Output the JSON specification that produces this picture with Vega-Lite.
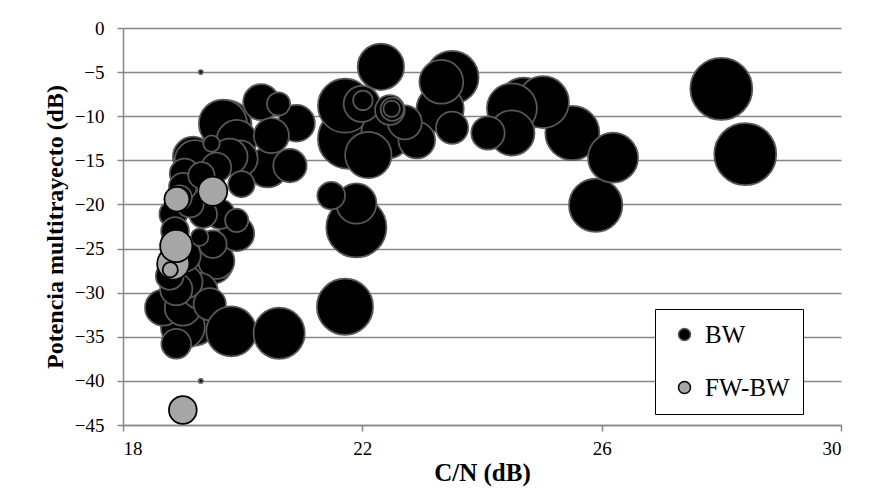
{
  "$schema": "https://vega.github.io/schema/vega-lite/v6.json",
  "width": 718,
  "height": 397,
  "autosize": {"type": "none"},
  "padding": {"left": 123, "top": 28, "right": 28, "bottom": 79},
  "background": "white",
  "config": {
    "view": {"stroke": null},
    "font": "Liberation Serif",
    "axis": {"labelFont": "Liberation Serif", "titleFont": "Liberation Serif"},
    "legend": {"labelFont": "Liberation Serif"}
  },
  "data": {
    "values": [
      {"serie": "BW", "cn": 28.00, "potencia": -6.9, "peso": 100},
      {"serie": "BW", "cn": 28.40, "potencia": -14.3, "peso": 100},
      {"serie": "BW", "cn": 21.76, "potencia": -12.55, "peso": 94},
      {"serie": "BW", "cn": 21.90, "potencia": -22.6, "peso": 94},
      {"serie": "BW", "cn": 21.71, "potencia": -31.6, "peso": 82},
      {"serie": "BW", "cn": 25.51, "potencia": -11.9, "peso": 76},
      {"serie": "BW", "cn": 21.71, "potencia": -8.8, "peso": 76},
      {"serie": "BW", "cn": 25.90, "potencia": -20.1, "peso": 74},
      {"serie": "BW", "cn": 23.50, "potencia": -5.6, "peso": 73},
      {"serie": "BW", "cn": 24.70, "potencia": -8.6, "peso": 72},
      {"serie": "BW", "cn": 25.02, "potencia": -8.4, "peso": 70},
      {"serie": "BW", "cn": 26.19, "potencia": -14.7, "peso": 65},
      {"serie": "BW", "cn": 24.50, "potencia": -9.1, "peso": 65},
      {"serie": "BW", "cn": 22.40, "potencia": -12.0, "peso": 65},
      {"serie": "BW", "cn": 19.17, "potencia": -33.2, "peso": 65},
      {"serie": "BW", "cn": 19.73, "potencia": -11.0, "peso": 65},
      {"serie": "BW", "cn": 19.67, "potencia": -10.85, "peso": 60},
      {"serie": "BW", "cn": 23.30, "potencia": -9.15, "peso": 58},
      {"serie": "BW", "cn": 22.31, "potencia": -4.4, "peso": 56},
      {"serie": "BW", "cn": 22.10, "potencia": -14.4, "peso": 56},
      {"serie": "BW", "cn": 24.50, "potencia": -11.9, "peso": 53},
      {"serie": "BW", "cn": 23.32, "potencia": -6.1, "peso": 50},
      {"serie": "BW", "cn": 19.00, "potencia": -33.9, "peso": 50},
      {"serie": "BW", "cn": 21.90, "potencia": -19.9, "peso": 42},
      {"serie": "BW", "cn": 20.42, "potencia": -15.8, "peso": 42},
      {"serie": "BW", "cn": 19.90, "potencia": -12.7, "peso": 42},
      {"serie": "BW", "cn": 19.17, "potencia": -14.6, "peso": 42},
      {"serie": "BW", "cn": 19.50, "potencia": -26.7, "peso": 42},
      {"serie": "BW", "cn": 19.20, "potencia": -15.0, "peso": 42},
      {"serie": "BW", "cn": 22.91, "potencia": -12.7, "peso": 35},
      {"serie": "BW", "cn": 20.90, "potencia": -10.8, "peso": 35},
      {"serie": "BW", "cn": 21.99, "potencia": -8.6, "peso": 34},
      {"serie": "BW", "cn": 20.31, "potencia": -8.4, "peso": 34},
      {"serie": "BW", "cn": 19.95, "potencia": -14.8, "peso": 34},
      {"serie": "BW", "cn": 19.78, "potencia": -14.6, "peso": 34},
      {"serie": "BW", "cn": 19.56, "potencia": -26.4, "peso": 34},
      {"serie": "BW", "cn": 18.67, "potencia": -31.7, "peso": 34},
      {"serie": "BW", "cn": 19.00, "potencia": -31.7, "peso": 34},
      {"serie": "BW", "cn": 19.28, "potencia": -29.8, "peso": 34},
      {"serie": "BW", "cn": 20.48, "potencia": -12.2, "peso": 32},
      {"serie": "BW", "cn": 19.90, "potencia": -23.3, "peso": 32},
      {"serie": "BW", "cn": 22.71, "potencia": -10.7, "peso": 30},
      {"serie": "BW", "cn": 24.10, "potencia": -11.9, "peso": 29},
      {"serie": "BW", "cn": 20.79, "potencia": -15.6, "peso": 29},
      {"serie": "BW", "cn": 23.50, "potencia": -11.3, "peso": 27},
      {"serie": "BW", "cn": 19.06, "potencia": -28.8, "peso": 27},
      {"serie": "BW", "cn": 19.45, "potencia": -31.3, "peso": 27},
      {"serie": "BW", "cn": 18.89, "potencia": -29.6, "peso": 27},
      {"serie": "BW", "cn": 19.03, "potencia": -25.8, "peso": 27},
      {"serie": "BW", "cn": 22.46, "potencia": -9.3, "peso": 23},
      {"serie": "BW", "cn": 19.56, "potencia": -15.8, "peso": 23},
      {"serie": "BW", "cn": 19.03, "potencia": -16.5, "peso": 23},
      {"serie": "BW", "cn": 19.62, "potencia": -21.1, "peso": 23},
      {"serie": "BW", "cn": 21.48, "potencia": -19.0, "peso": 20},
      {"serie": "BW", "cn": 19.50, "potencia": -24.5, "peso": 20},
      {"serie": "BW", "cn": 18.84, "potencia": -21.1, "peso": 20},
      {"serie": "BW", "cn": 19.34, "potencia": -21.1, "peso": 20},
      {"serie": "BW", "cn": 19.12, "potencia": -19.9, "peso": 20},
      {"serie": "BW", "cn": 19.00, "potencia": -18.0, "peso": 20},
      {"serie": "BW", "cn": 18.87, "potencia": -23.0, "peso": 20},
      {"serie": "BW", "cn": 18.78, "potencia": -28.1, "peso": 20},
      {"serie": "BW", "cn": 19.98, "potencia": -17.7, "peso": 18},
      {"serie": "BW", "cn": 19.31, "potencia": -16.7, "peso": 18},
      {"serie": "BW", "cn": 18.95, "potencia": -19.2, "peso": 15},
      {"serie": "BW", "cn": 22.50, "potencia": -9.2, "peso": 14},
      {"serie": "BW", "cn": 20.60, "potencia": -8.6, "peso": 14},
      {"serie": "BW", "cn": 19.90, "potencia": -21.8, "peso": 14},
      {"serie": "BW", "cn": 22.01, "potencia": -8.2, "peso": 10},
      {"serie": "BW", "cn": 19.28, "potencia": -23.7, "peso": 8},
      {"serie": "BW", "cn": 22.49, "potencia": -9.15, "peso": 7},
      {"serie": "BW", "cn": 19.48, "potencia": -13.1, "peso": 7},
      {"serie": "BW", "cn": 19.81, "potencia": -34.4, "peso": 65},
      {"serie": "BW", "cn": 20.61, "potencia": -34.6, "peso": 68},
      {"serie": "BW", "cn": 18.89, "potencia": -35.8, "peso": 23},
      {"serie": "BW", "cn": 19.30, "potencia": -5.0, "peso": 0.4},
      {"serie": "BW", "cn": 19.30, "potencia": -40.0, "peso": 0.4},
      {"serie": "FW-BW", "cn": 18.84, "potencia": -26.7, "peso": 27},
      {"serie": "FW-BW", "cn": 18.89, "potencia": -24.7, "peso": 27},
      {"serie": "FW-BW", "cn": 18.90, "potencia": -19.4, "peso": 16},
      {"serie": "FW-BW", "cn": 19.50, "potencia": -18.5, "peso": 22},
      {"serie": "FW-BW", "cn": 18.79, "potencia": -27.4, "peso": 6},
      {"serie": "FW-BW", "cn": 19.00, "potencia": -43.3, "peso": 20}
    ]
  },
  "mark": {"type": "circle", "opacity": 1, "strokeWidth": 1.75},
  "encoding": {
    "x": {
      "field": "cn",
      "type": "quantitative",
      "title": "C/N (dB)",
      "scale": {"domain": [18, 30], "nice": false, "zero": false},
      "axis": {
        "values": [18, 22, 26, 30],
        "grid": false,
        "domainColor": "#868686",
        "domainWidth": 1.5,
        "tickColor": "#868686",
        "tickWidth": 1.5,
        "tickSize": 6,
        "labelFont": "Liberation Serif",
        "labelFontSize": 19,
        "labelColor": "black",
        "labelPadding": 8,
        "titleFont": "Liberation Serif",
        "titleFontSize": 25,
        "titleFontWeight": "bold",
        "titleColor": "black",
        "titlePadding": 2
      }
    },
    "y": {
      "field": "potencia",
      "type": "quantitative",
      "title": "Potencia multitrayecto (dB)",
      "scale": {"domain": [-45, 0], "nice": false, "zero": false},
      "axis": {
        "values": [0, -5, -10, -15, -20, -25, -30, -35, -40, -45],
        "grid": true,
        "gridColor": "#868686",
        "gridWidth": 1.5,
        "domainColor": "#868686",
        "domainWidth": 1.5,
        "tickColor": "#868686",
        "tickWidth": 1.5,
        "tickSize": 6,
        "labelFont": "Liberation Serif",
        "labelFontSize": 19,
        "labelColor": "black",
        "labelPadding": 13,
        "titleFont": "Liberation Serif",
        "titleFontSize": 24,
        "titleFontWeight": "bold",
        "titleColor": "black",
        "titlePadding": 7
      }
    },
    "size": {
      "field": "peso",
      "type": "quantitative",
      "scale": {"domain": [0, 100], "range": [0, 3844], "zero": true},
      "legend": null
    },
    "fill": {
      "field": "serie",
      "type": "nominal",
      "scale": {"domain": ["BW", "FW-BW"], "range": ["#000000", "#a6a6a6"]},
      "legend": {
        "orient": "none",
        "legendX": 532,
        "legendY": 281,
        "title": null,
        "padding": 13,
        "strokeColor": "black",
        "fillColor": "white",
        "labelFont": "Liberation Serif",
        "labelFontSize": 25,
        "labelColor": "black",
        "labelOffset": 8,
        "symbolType": "circle",
        "symbolSize": 144,
        "symbolOffset": 4,
        "symbolStrokeWidth": 1.5,
        "rowPadding": 27
      }
    },
    "stroke": {
      "field": "serie",
      "type": "nominal",
      "scale": {"domain": ["BW", "FW-BW"], "range": ["#595959", "#000000"]},
      "legend": {
        "orient": "none",
        "legendX": 532,
        "legendY": 281,
        "title": null,
        "padding": 13,
        "strokeColor": "black",
        "fillColor": "white",
        "labelFont": "Liberation Serif",
        "labelFontSize": 25,
        "labelColor": "black",
        "labelOffset": 8,
        "symbolType": "circle",
        "symbolSize": 144,
        "symbolOffset": 4,
        "symbolStrokeWidth": 1.5,
        "rowPadding": 27
      }
    }
  }
}
